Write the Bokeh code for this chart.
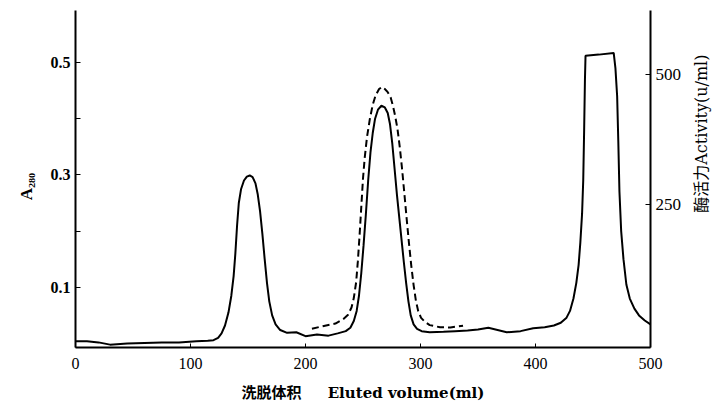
import math
from bokeh.plotting import figure
from bokeh.models import Range1d, LinearAxis, FixedTicker
from bokeh.layouts import row
from bokeh.core.properties import value
from bokeh.embed import file_html
from bokeh.resources import INLINE

# A280 (solid line)
vol_a280 = [0, 10, 20, 30, 45, 60, 75, 90, 105, 115, 120, 124, 127, 130, 133, 135.5,
            137.5, 139, 140.5, 142, 144, 146.5, 149, 151.5, 154, 156.5, 158.5, 160.5,
            162.5, 164.5, 166.5, 168.5, 171, 174, 178, 184, 192, 200, 210, 220, 228,
            235, 239, 242, 244.5, 246.5, 248.5, 250.5, 252.5, 254.5, 256.5, 258.5,
            260.5, 263, 266, 269, 271.5, 273.5, 275.5, 277.5, 279.5, 281.5, 283.5,
            285.5, 287.5, 289.5, 291.5, 294, 297, 301, 308, 320, 330, 341, 350, 359,
            367, 375, 387, 398, 408, 416, 422, 427, 430, 433, 435.5, 437.5, 439,
            440.5, 441.5, 442.3, 443, 443.5, 455, 468, 469.5, 471, 472, 473, 474.5,
            476.5, 479, 482, 486, 490, 495, 500]
a280 = [0.004, 0.004, 0.002, -0.002, 0.0, 0.001, 0.002, 0.002, 0.004, 0.005, 0.006,
        0.01, 0.018, 0.032, 0.055, 0.085, 0.12, 0.16, 0.21, 0.25, 0.275, 0.29, 0.297,
        0.299, 0.296, 0.285, 0.265, 0.235, 0.195, 0.15, 0.108, 0.075, 0.05, 0.034,
        0.024, 0.019, 0.02, 0.013, 0.016, 0.014, 0.018, 0.022, 0.028, 0.04, 0.058,
        0.085, 0.125, 0.175, 0.23, 0.29, 0.34, 0.375, 0.4, 0.416, 0.423, 0.42, 0.41,
        0.39, 0.355, 0.31, 0.265, 0.225, 0.185, 0.145, 0.108, 0.075, 0.05, 0.034,
        0.026, 0.022, 0.02, 0.021, 0.022, 0.023, 0.025, 0.028, 0.024, 0.02, 0.022,
        0.027, 0.029, 0.032, 0.037, 0.046, 0.058, 0.08, 0.108, 0.14, 0.18, 0.231,
        0.29, 0.38, 0.47, 0.512, 0.514, 0.517, 0.49, 0.44, 0.36, 0.27, 0.2, 0.15,
        0.105, 0.08, 0.062, 0.05, 0.041, 0.034]

# Enzyme activity (dashed line, right axis)
vol_act = [205.6, 215, 226, 233, 237, 240, 242, 244, 245.5, 247, 248.5, 250, 251.5,
           253.5, 256, 258.5, 261, 264, 266.5, 269, 271.5, 274, 276, 278, 280, 282,
           284, 286, 288, 290, 292, 294, 296, 298, 300.5, 304, 308, 317, 326, 337]
activity = [11, 16, 21, 30, 38, 52, 70, 100, 140, 190, 245, 300, 340, 380, 415, 442,
            460, 472, 476, 472, 466, 456, 440, 420, 395, 360, 318, 270, 222, 175, 132,
            95, 65, 45, 32, 24, 18, 14, 13.5, 17]

x_ticks = [0, 100, 200, 300, 400, 500]
left_ticks = [0.1, 0.3, 0.5]
left_minor = [0.2, 0.4]
right_ticks = [250, 500]

left_title = "A\u2082\u2088\u2080"
right_title = "酶活力Activity(u/ml)"
x_title = "洗脱体积\u00a0\u00a0\u00a0\u00a0\u00a0Eluted volume(ml)"

serif = "'Liberation Serif', 'Noto Sans CJK SC'"
wide_serif = "'DejaVu Serif', 'Noto Sans CJK SC'"

W_LEFT, W_RIGHT, H = 38, 26, 410

p = figure(width=712 - W_LEFT - W_RIGHT, height=H, output_backend="svg",
           toolbar_location=None,
           x_range=Range1d(0, 500), y_range=Range1d(-0.0071, 0.5925),
           y_axis_location=None,
           min_border_left=37, min_border_right=36, min_border_top=10,
           min_border_bottom=63)
p.extra_y_ranges = {"act": Range1d(-25, 623)}
p.outline_line_color = None
p.grid.visible = False
p.background_fill_color = "white"
p.border_fill_color = "white"

# bottom axis
xa = p.xaxis[0]
xa.ticker = FixedTicker(ticks=x_ticks)
xa.major_tick_in = 4
xa.major_tick_out = 0
xa.minor_tick_line_color = None
xa.axis_line_width = 2
xa.axis_line_color = "black"
xa.major_tick_line_color = "black"
xa.major_label_standoff = 10
xa.major_label_text_font = serif
xa.major_label_text_font_size = "16px"
xa.major_label_text_color = "black"
xa.axis_label = x_title
xa.axis_label_text_font = wide_serif
xa.axis_label_text_font_style = "bold"
xa.axis_label_text_font_size = "15px"
xa.axis_label_text_color = "black"
xa.axis_label_standoff = 12

# left axis
ya = LinearAxis(ticker=FixedTicker(ticks=left_ticks, minor_ticks=left_minor))
ya.major_tick_in = 5
ya.major_tick_out = 0
ya.minor_tick_in = 5
ya.minor_tick_out = 0
ya.axis_line_width = 2
ya.axis_line_color = "black"
ya.major_tick_line_color = "black"
ya.minor_tick_line_color = "black"
ya.major_label_standoff = 5
ya.major_label_text_font = serif
ya.major_label_text_font_style = "bold"
ya.major_label_text_font_size = "16px"
ya.major_label_text_color = "black"
p.add_layout(ya, "left")

# right axis
ra = LinearAxis(y_range_name="act", ticker=FixedTicker(ticks=right_ticks))
ra.major_tick_in = 5
ra.major_tick_out = 0
ra.minor_tick_line_color = None
ra.axis_line_width = 2
ra.axis_line_color = "black"
ra.major_tick_line_color = "black"
ra.major_label_standoff = 5
ra.major_label_text_font = serif
ra.major_label_text_font_size = "17px"
ra.major_label_text_color = "black"
p.add_layout(ra, "right")

p.line(vol_a280, a280, line_color="black", line_width=2)
p.line(vol_act, activity, y_range_name="act", line_color="black", line_width=2,
       line_dash="7 4")


def title_strip(width, text, sx, sy_bottom, font, size, style):
    # rotated title that starts at (sx, sy_bottom) and reads upward
    s = figure(width=width, height=H, output_backend="svg", toolbar_location=None,
               title=None, x_range=Range1d(0, width), y_range=Range1d(H, 0),
               x_axis_location=None, y_axis_location=None,
               min_border=0, min_border_left=0, min_border_right=0,
               min_border_top=0, min_border_bottom=0)
    s.outline_line_color = None
    s.grid.visible = False
    s.background_fill_color = "white"
    s.border_fill_color = "white"
    s.text(x=[sx], y=[sy_bottom], text=[text], angle=math.pi / 2, text_align="left",
           text_baseline="middle", text_font=value(font), text_font_size=size,
           text_font_style=style, text_color="black")
    return s


left_strip = title_strip(W_LEFT, left_title, 26, 231, serif, "17px", "bold")
right_strip = title_strip(W_RIGHT, right_title, 15, 246, wide_serif, "16px", "normal")

layout = row(left_strip, p, right_strip, spacing=0)
open("out.html", "w").write(file_html(layout, INLINE))
